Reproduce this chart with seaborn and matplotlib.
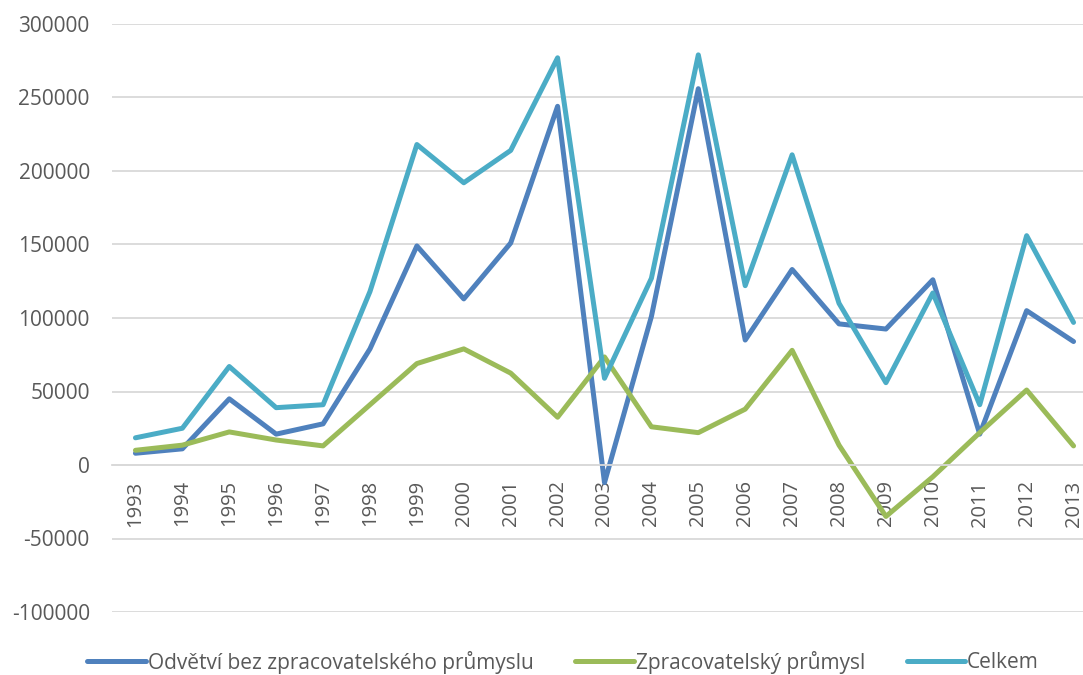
import numpy as np
import pandas as pd
import matplotlib
matplotlib.use("Agg")
import matplotlib.pyplot as plt
import seaborn as sns

years = [str(y) for y in range(1993, 2014)]
odvetvi = [8000, 11000, 45000, 21000, 28000, 79000, 149000, 113000, 151000, 244000,
           -12000, 101000, 256000, 85000, 133000, 96000, 92500, 126000, 21000, 105000, 84000]
zprac = [10000, 13500, 22500, 17000, 13000, 41000, 69000, 79000, 62500, 32500,
         73500, 26000, 22000, 38000, 78000, 13500, -35000, -8000, 22000, 51000, 13000]
celkem = [18500, 25000, 67000, 39000, 41000, 118000, 218000, 192000, 214000, 277000,
          59000, 127000, 279000, 122000, 211000, 110000, 56000, 117000, 41000, 156000, 97000]

series_names = ["Odvětví bez zpracovatelského průmyslu", "Zpracovatelský průmysl", "Celkem"]
colors = ["#4f81bd", "#9bbb59", "#4bacc6"]
yticks = [-100000, -50000, 0, 50000, 100000, 150000, 200000, 250000, 300000]

df = pd.DataFrame({
    "year": years * 3,
    "value": odvetvi + zprac + celkem,
    "series": [series_names[0]] * len(years) + [series_names[1]] * len(years) + [series_names[2]] * len(years),
})
df["x"] = list(range(len(years))) * 3

sns.set_theme(style="white")
plt.rcParams['font.family'] = ['Open Sans', 'DejaVu Sans']

fig = plt.figure(figsize=(10.83, 6.75), dpi=100)
ax = fig.add_axes([112 / 1083, 1 - 612 / 675, (1097 - 112) / 1083, (612 - 24) / 675])

sns.lineplot(data=df, x="x", y="value", hue="series", palette=colors,
             hue_order=series_names, linewidth=3.6, ax=ax, legend=True, sort=False)

for s in ["top", "right", "left"]:
    ax.spines[s].set_visible(False)
ax.spines["bottom"].set_position(("data", 0))
ax.spines["bottom"].set_color("#d9d9d9")
ax.spines["bottom"].set_linewidth(1.3)

ax.set_xlim(-0.5, len(years) - 0.5)
ax.set_ylim(-100000, 300000)
ax.set_yticks(yticks)
ax.set_yticklabels([str(v) for v in yticks])
ax.yaxis.grid(True, color="#d9d9d9", linewidth=1.3)
ax.set_axisbelow(True)
ax.set_xticks(range(len(years)))
ax.set_xticklabels(years)
ax.tick_params(axis="x", length=0, pad=11, labelrotation=90, labelsize=14.5, labelcolor="#595959")
ax.tick_params(axis="y", length=0, pad=16, labelsize=15, labelcolor="#595959")
ax.set_xlabel("")
ax.set_ylabel("")

handles, labels = ax.get_legend_handles_labels()
ax.legend(handles, labels, loc="center", bbox_to_anchor=(563 / 1083, 1 - 662 / 675),
          bbox_transform=fig.transFigure, ncol=3, frameon=False, fontsize=15,
          handlelength=2.8, handletextpad=0.1, columnspacing=2.0, labelcolor="#595959")

fig.savefig("out.png", dpi=100)
